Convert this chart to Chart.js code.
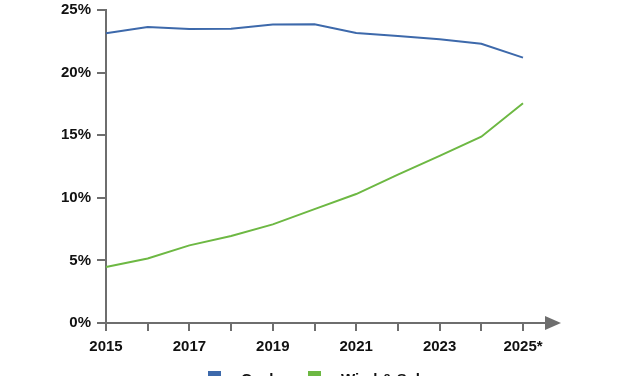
<!DOCTYPE html>
<html><head><meta charset="utf-8">
<script src="https://cdn.jsdelivr.net/npm/chart.js@4"></script>
<style>
html,body{margin:0;padding:0;background:#fff;overflow:hidden;}
#c{display:block;}
</style></head><body>
<canvas id="c" width="627" height="376" style="width:627px;height:376px"></canvas>
<script>
const years = ['2015','2016','2017','2018','2019','2020','2021','2022','2023','2024','2025*'];
const coal = [23.15, 23.65, 23.48, 23.5, 23.85, 23.87, 23.16, 22.92, 22.66, 22.3, 21.2];
const windSolar = [4.47, 5.15, 6.2, 6.95, 7.88, 9.1, 10.3, 11.85, 13.35, 14.88, 17.55];
const yTicks = [0, 5, 10, 15, 20, 25];
const axisColor = '#6e6e6e';
const fam = "'Liberation Sans', Arial, sans-serif";
const font = {family: fam, weight: 'bold', size: 15};

const arrowPlugin = {
  id: 'arrow',
  afterDraw(chart) {
    const {ctx, chartArea} = chart;
    const y = chart.scales.y.getPixelForValue(0);
    ctx.save();
    ctx.strokeStyle = axisColor; ctx.fillStyle = axisColor; ctx.lineWidth = 2;
    ctx.beginPath(); ctx.moveTo(chartArea.right, y); ctx.lineTo(chartArea.right + 26, y); ctx.stroke();
    ctx.beginPath();
    ctx.moveTo(chartArea.right + 22, y - 7);
    ctx.lineTo(chartArea.right + 38, y);
    ctx.lineTo(chartArea.right + 22, y + 7);
    ctx.closePath(); ctx.fill();
    ctx.restore();
  }
};

const legendPlugin = {
  id: 'customLegend',
  afterDraw(chart) {
    const {ctx} = chart;
    const xs = [208, 308];
    const yTop = 371;
    ctx.save();
    ctx.font = 'bold 15px ' + fam;
    ctx.textBaseline = 'top';
    chart.data.datasets.forEach((ds, i) => {
      ctx.fillStyle = ds.borderColor;
      ctx.fillRect(xs[i], yTop, 13, 13);
      ctx.fillStyle = '#111';
      ctx.fillText(ds.label, xs[i] + 33, yTop + 1);
    });
    ctx.restore();
  }
};

new Chart(document.getElementById('c'), {
  type: 'line',
  data: {
    labels: years,
    datasets: [
      {label: 'Coal', data: coal, borderColor: '#3d69ab', backgroundColor: '#3d69ab', borderWidth: 2, pointRadius: 0, tension: 0},
      {label: 'Wind & Solar', data: windSolar, borderColor: '#6db843', backgroundColor: '#6db843', borderWidth: 2, pointRadius: 0, tension: 0}
    ]
  },
  options: {
    responsive: false,
    animation: false,
    layout: {padding: {left: 0, right: 104, top: 10, bottom: 15}},
    plugins: {
      legend: {display: false},
      tooltip: {enabled: false}
    },
    scales: {
      x: {
        offset: false,
        border: {display: true, color: axisColor, width: 2},
        grid: {display: true, drawOnChartArea: false, drawTicks: true, tickLength: 8, color: axisColor, lineWidth: 2},
        ticks: {
          autoSkip: false, maxRotation: 0, color: '#111', font: font, padding: 7,
          callback: function(v, i) { return i % 2 === 0 ? years[i] : ''; }
        },
        afterFit: s => { s.height = 38; }
      },
      y: {
        min: 0, max: 25,
        afterBuildTicks: s => { s.ticks = yTicks.map(v => ({value: v})); },
        border: {display: true, color: axisColor, width: 2},
        grid: {display: true, drawOnChartArea: false, drawTicks: true, tickLength: 9, color: axisColor, lineWidth: 2},
        ticks: {color: '#111', font: font, padding: 6, callback: v => v + '%'},
        afterFit: s => { s.width = 106; s.paddingTop = 0; s.paddingBottom = 0; }
      }
    }
  },
  plugins: [arrowPlugin, legendPlugin]
});
</script>
</body></html>
